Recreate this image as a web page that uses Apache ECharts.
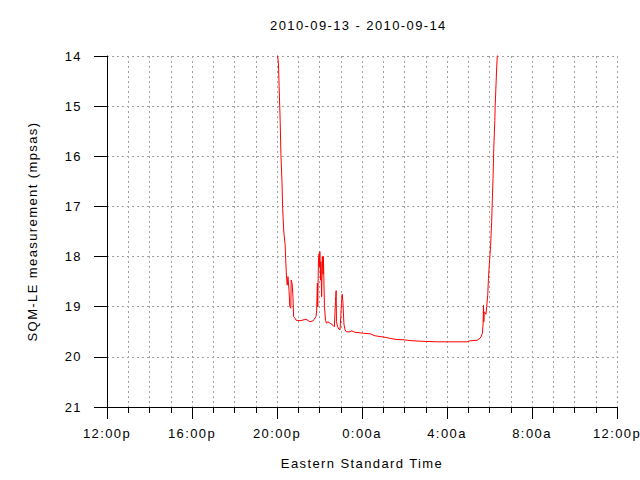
<!DOCTYPE html>
<html><head><meta charset="utf-8">
<script src="https://cdn.jsdelivr.net/npm/echarts@6/dist/echarts.min.js"></script>
<style>html,body{margin:0;padding:0;background:#fff}#c{width:640px;height:480px}#c text{letter-spacing:1.4px}</style>
</head><body><div id="c"></div>
<script>
var titleText = "2010-09-13 - 2010-09-14";
var xName = "Eastern Standard Time";
var yName = "SQM-LE measurement (mpsas)";
var xTickLabels = ["12:00p","16:00p","20:00p","0:00a","4:00a","8:00a","12:00p"];
var yTicks = [14,15,16,17,18,19,20,21];
var times = ["19:58","20:04","20:06","20:09","20:11","20:14","20:16","20:19","20:23","20:25","20:27","20:29","20:31","20:34","20:36","20:39","20:40","20:43","20:45","20:47","20:51","20:54","21:05","21:22","21:33","21:42","21:50","21:52","21:54","21:55","21:57","21:59","22:00","22:01","22:03","22:04","22:06","22:08","22:10","22:11","22:14","22:17","22:20","22:23","22:30","22:38","22:42","22:45","22:47","22:48","22:51","22:55","22:58","23:00","23:02","23:04","23:06","23:09","23:12","23:16","23:26","23:31","23:40","23:54","0:04","0:23","0:37","1:05","1:19","1:33","1:56","2:24","2:52","3:32","4:56","5:05","5:25","5:33","5:36","5:40","5:42","5:43","5:44","5:45","5:50","5:52","5:55","5:57","5:59","6:01","6:03","6:06","6:08","6:10","6:12","6:15","6:16","6:20","6:22","6:24"];
var values = [13.8,14.13,14.61,15.31,15.95,16.5,17.04,17.49,17.77,18.13,18.44,18.57,18.4,18.68,18.99,19.03,18.47,18.55,18.81,19.2,19.23,19.27,19.28,19.25,19.3,19.28,19.2,19.07,18.53,19.0,18.07,17.94,18.2,17.9,18.47,18.1,18.8,18.0,18.35,18.0,19.0,19.27,19.33,19.3,19.33,19.37,19.4,18.9,18.68,19.3,19.4,19.45,19.46,19.2,18.94,18.75,18.9,19.35,19.46,19.5,19.5,19.48,19.51,19.52,19.53,19.54,19.58,19.61,19.63,19.65,19.66,19.68,19.69,19.7,19.7,19.68,19.67,19.63,19.6,19.53,19.33,18.97,19.3,19.1,19.15,19.0,18.77,18.44,18.2,18.0,17.8,17.32,16.87,16.44,15.85,15.29,15.01,14.28,14.0,13.8];

function hoursSinceNoon(t){
  var p = t.split(":"); var h = +p[0] + (+p[1])/60 - 12;
  if (h < 0) h += 24; return h;
}
var data = times.map(function(t,i){ return [hoursSinceNoon(t), values[i]]; });

var font = "Liberation Sans";
var fs = 13;
var grid = {left:107, right:23, top:56, bottom:73};
var dot = {color:'#a0a0a0', width:1, type:[2,3]};
var chart = echarts.init(document.getElementById('c'), null, {renderer:'svg'});
chart.setOption({
  animation:false,
  backgroundColor:'#fff',
  title:{text:titleText, left:270, top:19, padding:0, textStyle:{fontFamily:font, fontSize:fs, fontWeight:'normal', color:'#000'}},
  grid:grid,
  xAxis:{type:'value', min:0, max:24, interval:4,
    name:xName, nameLocation:'middle', nameGap:50,
    nameTextStyle:{fontFamily:font, fontSize:fs, color:'#000'},
    axisLine:{show:true, lineStyle:{color:'#000', width:1}},
    axisTick:{show:true, length:12, inside:false, lineStyle:{color:'#000'}},
    minorTick:{show:true, splitNumber:4, length:6, lineStyle:{color:'#000'}},
    splitLine:{show:true, lineStyle:dot},
    minorSplitLine:{show:true, lineStyle:dot},
    axisLabel:{fontFamily:font, fontSize:fs, color:'#000', margin:20,
      formatter:function(v){ return xTickLabels[Math.round(v/4)]; }}
  },
  yAxis:{type:'value', min:yTicks[0], max:yTicks[yTicks.length-1], interval:1, inverse:true,
    name:yName, nameLocation:'middle', nameGap:68, nameRotate:90,
    nameTextStyle:{fontFamily:font, fontSize:fs, color:'#000'},
    axisLine:{show:true, lineStyle:{color:'#000', width:1}},
    axisTick:{show:true, length:13, inside:false, lineStyle:{color:'#000'}},
    splitLine:{show:true, lineStyle:dot},
    axisLabel:{fontFamily:font, fontSize:fs, color:'#000', margin:25}
  },
  series:[{type:'line', data:data, showSymbol:false, symbol:'none', clip:true,
    lineStyle:{color:'#ff0000', width:1}, itemStyle:{color:'#ff0000'}}]
});
</script></body></html>
